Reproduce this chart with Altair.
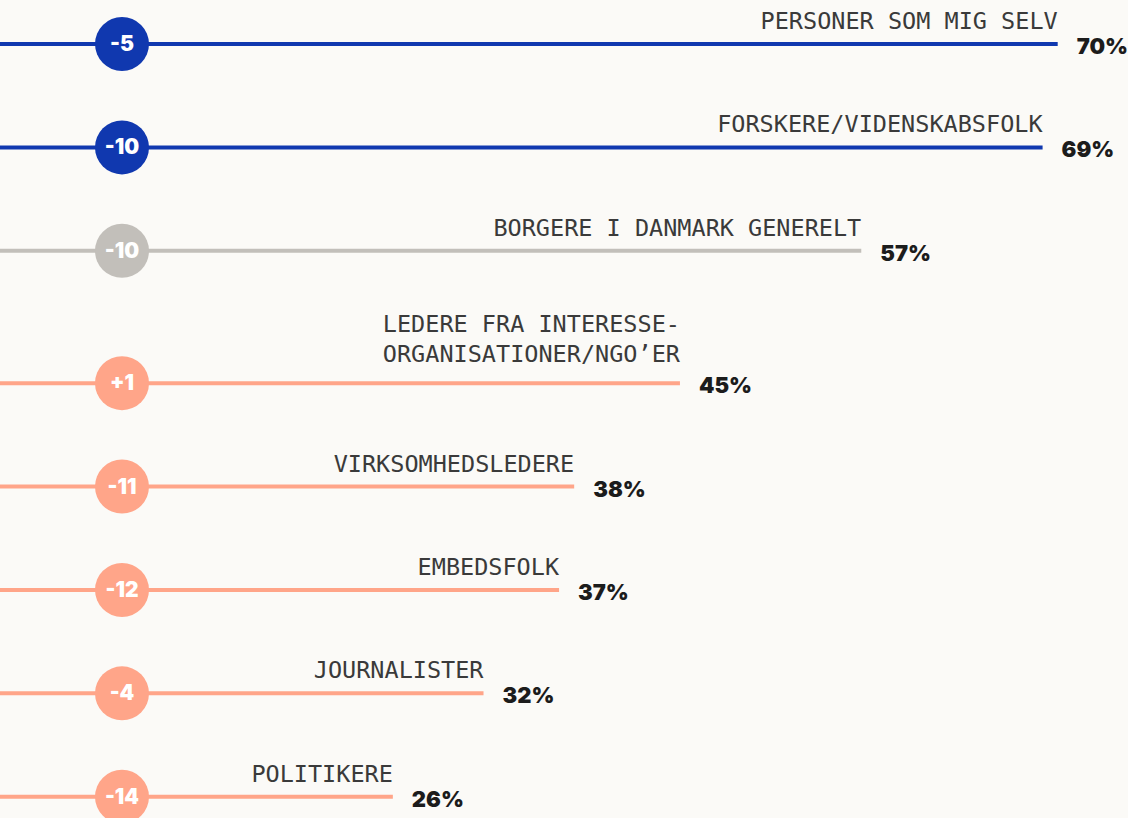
import altair as alt
import pandas as pd

categories = [
    "PERSONER SOM MIG SELV",
    "FORSKERE/VIDENSKABSFOLK",
    "BORGERE I DANMARK GENERELT",
    "LEDERE FRA INTERESSE-\nORGANISATIONER/NGO\u2019ER",
    "VIRKSOMHEDSLEDERE",
    "EMBEDSFOLK",
    "JOURNALISTER",
    "POLITIKERE",
]
percent = [70, 69, 57, 45, 38, 37, 32, 26]
change = [-5, -10, -10, 1, -11, -12, -4, -14]
group = ["høj", "høj", "gennemsnit", "lav", "lav", "lav", "lav", "lav"]

W, H = 1128, 818
GAP, TOP = 103.4, 44
LINE_H = 30

# layout: rows, with extra room for labels that wrap to two lines
rows = []
r = 0.0
for c in categories:
    r += 0.28 * c.count("\n")
    rows.append(r)
    r += 1.0

df = pd.DataFrame({
    "cat": categories,
    "pct": percent,
    "chg": [f"+{v}" if v > 0 else str(v) for v in change],
    "grp": group,
    "row": rows,
    "pct_lbl": [f"{v}%" for v in percent],
})

# one text item per label line, stacked upward from the rule
lab_rows = []
for c, p, rw in zip(categories, percent, rows):
    parts = c.split("\n")
    n = len(parts)
    extra = 6 if n > 1 else 0
    for k, t in enumerate(parts):
        lab_rows.append({
            "txt": t, "pct": p,
            "lrow": rw - ((n - 1 - k) * LINE_H + extra) / GAP,
        })
lab = pd.DataFrame(lab_rows)

xs = alt.Scale(domain=[0, W / 15.11], range=[0, W], nice=False, zero=False)
ys = alt.Scale(domain=[-TOP / GAP, (H - TOP) / GAP], range=[0, H], nice=False, zero=False)
col = alt.Scale(domain=["høj", "gennemsnit", "lav"], range=["#1038AF", "#C2BFBA", "#FFA589"])

base = alt.Chart(df)
Y = alt.Y("row:Q", scale=ys, axis=None)

lines = base.mark_rule(strokeWidth=4).encode(
    x=alt.X("zero:Q", scale=xs, axis=None),
    x2="pct:Q",
    y=Y,
    color=alt.Color("grp:N", scale=col, legend=None),
).transform_calculate(zero="0")

circles = base.mark_circle(size=54 * 54, opacity=1).encode(
    x=alt.value(122),
    y=Y,
    color=alt.Color("grp:N", scale=col, legend=None),
)

circle_txt = base.mark_text(
    font="Inter", fontWeight=900, fontSize=21, color="white",
    align="center", baseline="middle", dy=1,
).encode(x=alt.value(122), y=Y, text="chg:N")

cat_txt = alt.Chart(lab).mark_text(
    font="DejaVu Sans Mono", fontSize=23.5, color="#3A3A3A", align="right",
    baseline="alphabetic", dy=-15,
).encode(
    x=alt.X("pct:Q", scale=xs),
    y=alt.Y("lrow:Q", scale=ys, axis=None),
    text="txt:N",
)

pct_txt = base.mark_text(
    font="Inter", fontWeight=900, fontSize=22, color="#1C1C1C",
    align="left", baseline="middle", dx=19, dy=3,
).encode(x=alt.X("pct:Q", scale=xs), y=Y, text="pct_lbl:N")

chart = alt.layer(lines, circles, circle_txt, cat_txt, pct_txt).properties(
    width=W, height=H, background="#FBFAF7", padding=0,
    autosize=alt.AutoSizeParams(type="none"),
).configure_view(stroke=None)

chart.save("out.html", embed_options={"renderer": "svg", "actions": False})
